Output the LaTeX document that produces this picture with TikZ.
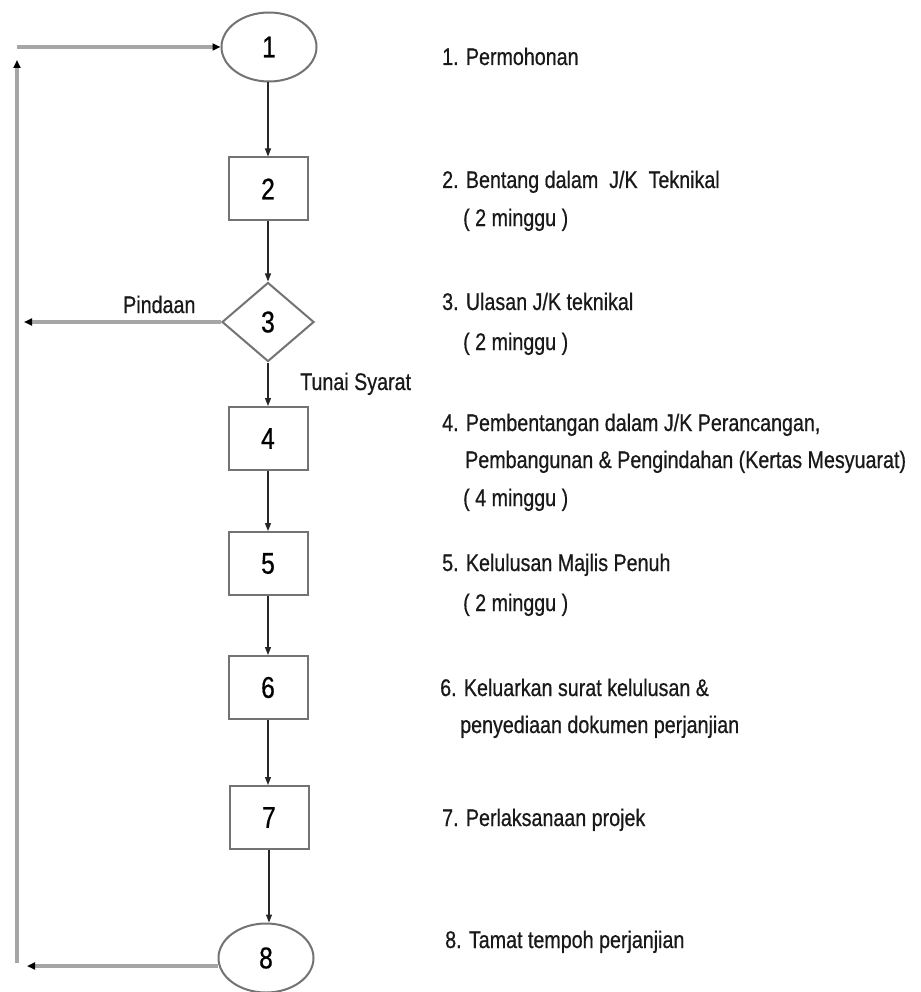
\documentclass[tikz,border=0pt]{standalone}
\usepackage{fontspec}
\setmainfont{Liberation Sans}[FakeStretch=0.82,FakeBold=0.6]
\usetikzlibrary{shapes.geometric,arrows.meta}
\begin{document}
\begin{tikzpicture}[x=1pt,y=-1pt,
  outl/.style={draw=black!55, line width=2pt, inner sep=0pt, font=\fontsize{30}{32}\selectfont},
  procbox/.style={outl, rectangle, minimum width=79pt, minimum height=63pt},
  termin/.style={outl, ellipse, minimum width=95pt, minimum height=69pt},
  decis/.style={outl, diamond, minimum width=92pt, minimum height=79pt},
  flow/.style={draw=black!85, line width=1.3pt, -{Triangle[length=8pt,width=6pt]}},
  back/.style={draw=black!35, line width=3.2pt},
  backarr/.style={back, -{Triangle[length=8pt,width=7pt,color=black]}},
  desc/.style={anchor=base west, inner sep=0pt, font=\fontsize{24}{28}\selectfont, text=black!90},
]
\fill[white] (0,0) rectangle (920,992);
\useasboundingbox (0,0) rectangle (920,992);

% flow nodes
\node[termin]  (n1) at (269,47)    {1};
\node[procbox] (n2) at (268,189)   {2};
\node[decis]   (n3) at (268,322)   {3};
\node[procbox] (n4) at (268,438.5) {4};
\node[procbox] (n5) at (268,563.5) {5};
\node[procbox] (n6) at (268,687.5) {6};
\node[procbox] (n7) at (269,817.5) {7};
\node[termin]  (n8) at (266,958)   {8};

% vertical flow
\draw[flow] (n1.south -| n2.north) -- (n2.north);
\draw[flow] (n2) -- (n3);
\draw[flow] (n3) -- (n4);
\draw[flow] (n4) -- (n5);
\draw[flow] (n5) -- (n6);
\draw[flow] (n6.south) -- (n6.south |- n7.north);
\draw[flow] (n7.south) -- (n7.south |- n8.north);

% feedback loop
\coordinate (bl) at (17,963);
\coordinate (tl) at (17,60);
\coordinate (tc) at (17,47);
\coordinate (be) at (27,966);
\coordinate (pe) at (24,322);
\draw[backarr] (bl) -- (tl);
\draw[backarr] (tc) -- (n1.west);
\draw[backarr] (n8.west |- be) -- (be);
\draw[backarr] (n3.west) -- (pe);

% branch labels
\node[desc] (lp) at (123,313) {Pindaan};
\node[desc] (lt) at (300,390) {Tunai Syarat};

% descriptions
\node[desc] (t1)  at (442,65)  {1. Permohonan};
\node[desc] (t2a) at (442,188) {2. Bentang dalam\ \ J/K\ \ Teknikal};
\node[desc] (t2b) at (463,226) {( 2 minggu )};
\node[desc] (t3a) at (442,310) {3. Ulasan J/K teknikal};
\node[desc] (t3b) at (463,350) {( 2 minggu )};
\node[desc] (t4a) at (442,431) {4. Pembentangan dalam J/K Perancangan,};
\node[desc] (t4b) at (465,468) {Pembangunan \& Pengindahan (Kertas Mesyuarat)};
\node[desc] (t4c) at (463,506) {( 4 minggu )};
\node[desc] (t5a) at (442,571) {5. Kelulusan Majlis Penuh};
\node[desc] (t5b) at (463,611) {( 2 minggu )};
\node[desc] (t6a) at (440,696) {6. Keluarkan surat kelulusan \&};
\node[desc] (t6b) at (460,733) {penyediaan dokumen perjanjian};
\node[desc] (t7)  at (442,826) {7. Perlaksanaan projek};
\node[desc] (t8)  at (445,948) {8. Tamat tempoh perjanjian};
\end{tikzpicture}
\end{document}
